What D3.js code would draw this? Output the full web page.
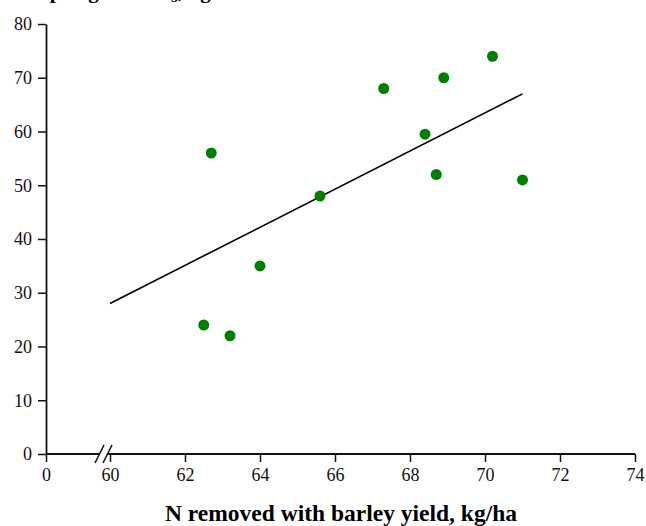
<!DOCTYPE html>
<html>
<head>
<meta charset="utf-8">
<script src="https://cdn.jsdelivr.net/npm/d3@7"></script>
<style>
  body { margin: 0; background: #fff; }
  text { font-family: "Liberation Serif", "Times New Roman", serif; }
</style>
</head>
<body>
<svg id="chart" width="646" height="526"></svg>
<script>
// Data
const nRemoved = [62.7, 62.5, 63.2, 64.0, 65.6, 67.3, 68.4, 68.7, 68.9, 70.2, 71.0];
const nUptake  = [56, 24, 22, 35, 48, 68, 59.5, 52, 70, 74, 51];
const trendX = [60, 71];
const trendY = [28, 67];
const xTicks = [0, 60, 62, 64, 66, 68, 70, 72, 74];
const yTicks = [0, 10, 20, 30, 40, 50, 60, 70, 80];

const svg = d3.select('#chart');

// x axis has a break between 0 and 60
const x = d3.scaleLinear().domain([0, 60, 74]).range([46, 110, 635]);
const y = d3.scaleLinear().domain([0, 80]).range([454, 24]);

// y axis
const yAxis = svg.append('g')
  .attr('transform', `translate(${x(0)},0)`)
  .call(d3.axisLeft(y).tickValues(yTicks).tickSize(8).tickPadding(6).tickSizeOuter(0));
yAxis.select('.domain').attr('stroke', '#111').attr('stroke-width', 1.8);
yAxis.selectAll('.tick line').attr('stroke', '#111').attr('stroke-width', 1.5);
yAxis.selectAll('.tick text')
  .attr('font-family', '"Liberation Serif", serif')
  .attr('font-size', 18).attr('fill', '#111');

// x axis
const xAxis = svg.append('g')
  .attr('transform', `translate(0,${y(0)})`)
  .call(d3.axisBottom(x).tickValues(xTicks).tickSize(8).tickPadding(6));
xAxis.select('.domain').remove();
xAxis.selectAll('.tick line').attr('stroke', '#111').attr('stroke-width', 1.5);
xAxis.selectAll('.tick text')
  .attr('font-family', '"Liberation Serif", serif')
  .attr('font-size', 18).attr('fill', '#111');

// axis line pieces and break marks
const axisLine = svg.append('g').attr('stroke', '#111').attr('stroke-width', 1.8);
axisLine.append('line').attr('x1', x(0)).attr('x2', 99).attr('y1', y(0)).attr('y2', y(0));
axisLine.append('line').attr('x1', 107).attr('x2', x(74)).attr('y1', y(0)).attr('y2', y(0));
[95, 103].forEach(bx => {
  axisLine.append('line')
    .attr('x1', bx).attr('y1', y(0) + 9)
    .attr('x2', bx + 9).attr('y2', y(0) - 9)
    .attr('stroke-width', 1.6);
});

// trend line
svg.append('line')
  .attr('x1', x(trendX[0])).attr('y1', y(trendY[0]))
  .attr('x2', x(trendX[1])).attr('y2', y(trendY[1]))
  .attr('stroke', '#000').attr('stroke-width', 1.6);

// points
svg.append('g')
  .selectAll('circle')
  .data(nRemoved.map((v, i) => [v, nUptake[i]]))
  .enter()
  .append('circle')
  .attr('cx', d => x(d[0]))
  .attr('cy', d => y(d[1]))
  .attr('r', 5.5)
  .attr('fill', '#008000');

// x title
svg.append('text')
  .attr('x', 341).attr('y', 521)
  .attr('text-anchor', 'middle')
  .attr('font-size', 23.5).attr('font-weight', 'bold')
  .attr('fill', '#000')
  .text('N removed with barley yield, kg/ha');

// y title, cut off at the top edge as in the source
const yTitle = svg.append('text')
  .attr('x', 38).attr('y', -2)
  .attr('font-size', 21).attr('font-weight', 'bold')
  .attr('fill', '#000');
yTitle.append('tspan').text('Spring soil NO');
yTitle.append('tspan').attr('font-size', 14).attr('dy', 4).text('3');
yTitle.append('tspan').attr('dy', -4).text(', kg/ha');
</script>
</body>
</html>
